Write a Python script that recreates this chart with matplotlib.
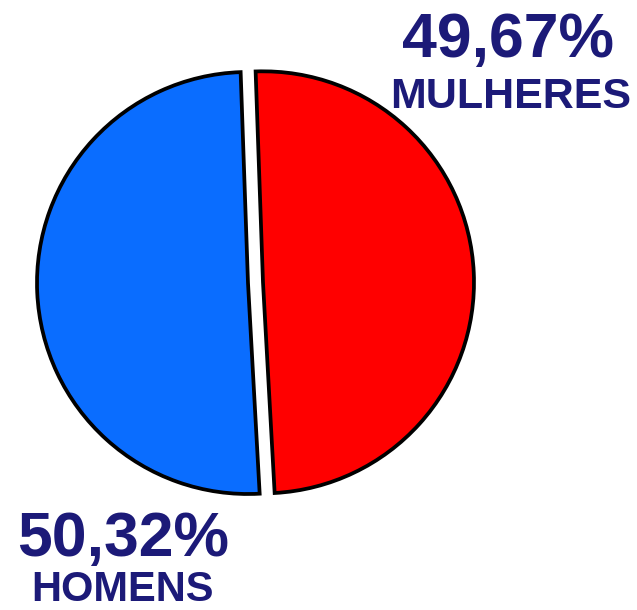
import matplotlib.pyplot as plt

# dados
categorias = ['MULHERES', 'HOMENS']
percentuais = [49.67, 50.32]
rotulos = ['49,67%', '50,32%']
cores = ['#ff0000', '#0a6dff']

plt.rcParams['font.family'] = ['Liberation Sans', 'DejaVu Sans']
cor_texto = '#1c1a78'

fig = plt.figure(figsize=(6.37, 6.10), dpi=100)
ax = fig.add_axes([0, 0, 1, 1])

raio = 211
ax.pie(percentuais, colors=cores, startangle=92, counterclock=False,
       center=(248, 327), radius=raio, explode=[15, 0],
       wedgeprops=dict(edgecolor='black', linewidth=2.7), frame=True)
ax.set_xlim(0, 637)
ax.set_ylim(0, 610)
ax.axis('off')

# textos
ax.text(508, 553, rotulos[0], fontsize=45, fontweight='bold', color=cor_texto,
        ha='center', va='baseline')
ax.text(511, 502, categorias[0], fontsize=31, fontweight='bold', color=cor_texto,
        ha='center', va='baseline')
ax.text(123, 54, rotulos[1], fontsize=45, fontweight='bold', color=cor_texto,
        ha='center', va='baseline')
ax.text(123, 9, categorias[1], fontsize=30, fontweight='bold', color=cor_texto,
        ha='center', va='baseline')

plt.savefig('out.png', dpi=100)
plt.close()
